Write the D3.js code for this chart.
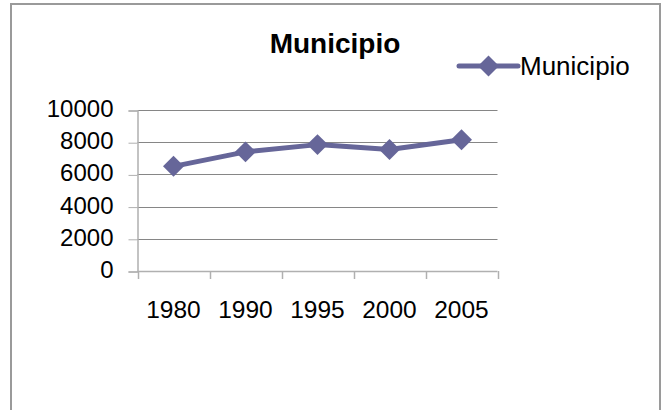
<!DOCTYPE html>
<html lang="es">
<head>
<meta charset="UTF-8">
<title>Municipio</title>
<script src="https://cdn.jsdelivr.net/npm/d3@7"></script>
<style>
    body { margin: 0; background: #fff; }
    svg text { font-family: "Liberation Sans", Arial, sans-serif; fill: #000; }
</style>
</head>
<body>
<script>
const years = ["1980", "1990", "1995", "2000", "2005"];
const values = [6500, 7400, 7850, 7550, 8150];
const yTicks = [0, 2000, 4000, 6000, 8000, 10000];
const seriesName = "Municipio";
const title = "Municipio";

const w = 662, h = 410;
const color = "#666699";

const svg = d3.select("body").append("svg")
    .attr("width", w)
    .attr("height", h);

// chart frame (bottom edge is outside the window)
svg.append("path")
    .attr("d", "M11,420 V4 H660 V420")
    .attr("fill", "none")
    .attr("stroke", "#9a9a9a")
    .attr("stroke-width", 2);

const xScale = d3.scaleBand()
    .domain(years)
    .range([137.5, 497.5]);

const yScale = d3.scaleLinear()
    .domain([0, 10000])
    .range([271, 110]);

// gridlines
svg.append("g")
    .selectAll("line")
    .data(yTicks.filter(d => d > 0))
    .enter()
    .append("line")
    .attr("x1", 137.5)
    .attr("x2", 497.5)
    .attr("y1", d => Math.round(yScale(d)) + 0.5)
    .attr("y2", d => Math.round(yScale(d)) + 0.5)
    .attr("stroke", "#868686")
    .attr("stroke-width", 1);

// y axis
const yAxis = d3.axisLeft(yScale)
    .tickValues(yTicks)
    .tickFormat(d3.format("d"))
    .tickSize(9)
    .tickPadding(15);

const gy = svg.append("g")
    .attr("transform", "translate(137.5,0.5)")
    .call(yAxis);
gy.select(".domain").attr("stroke", "#b0b0b0").attr("stroke-width", 1.5);
gy.selectAll(".tick line").attr("stroke", "#b0b0b0");
gy.selectAll(".tick text")
    .style("font-size", "24px")
    .attr("dy", "0.25em");

// x axis: baseline, ticks at band edges, labels at band centres
svg.append("line")
    .attr("x1", 137.5).attr("x2", 497.5)
    .attr("y1", 271.5).attr("y2", 271.5)
    .attr("stroke", "#b0b0b0")
    .attr("stroke-width", 1.5);

const edges = years.map(d => xScale(d)).concat([xScale.range()[1]]);
svg.append("g")
    .selectAll("line")
    .data(edges)
    .enter()
    .append("line")
    .attr("x1", d => Math.round(d) + 0.5)
    .attr("x2", d => Math.round(d) + 0.5)
    .attr("y1", 271)
    .attr("y2", 279)
    .attr("stroke", "#b0b0b0")
    .attr("stroke-width", 1.5);

svg.append("g")
    .selectAll("text")
    .data(years)
    .enter()
    .append("text")
    .attr("x", d => xScale(d) + xScale.bandwidth() / 2)
    .attr("y", 318)
    .attr("text-anchor", "middle")
    .style("font-size", "24.5px")
    .text(d => d);

// series line
const pts = years.map((y, i) => ({ year: y, value: values[i] }));
const line = d3.line()
    .x(d => xScale(d.year) + xScale.bandwidth() / 2)
    .y(d => yScale(d.value));

svg.append("path")
    .datum(pts)
    .attr("d", line)
    .attr("fill", "none")
    .attr("stroke", color)
    .attr("stroke-width", 5)
    .attr("stroke-linejoin", "round");

const diamond = d3.symbol().type(d3.symbolDiamond2).size(280);

svg.append("g")
    .selectAll("path")
    .data(pts)
    .enter()
    .append("path")
    .attr("d", diamond)
    .attr("transform", d => "translate(" + (xScale(d.year) + xScale.bandwidth() / 2) + "," + yScale(d.value) + ")")
    .attr("fill", color);

// title
svg.append("text")
    .attr("x", 335)
    .attr("y", 53)
    .attr("text-anchor", "middle")
    .style("font-size", "28px")
    .style("font-weight", "bold")
    .text(title);

// legend
const lg = svg.append("g").attr("transform", "translate(459,66)");
lg.append("line")
    .attr("x1", 0).attr("x2", 59)
    .attr("y1", 0).attr("y2", 0)
    .attr("stroke", color)
    .attr("stroke-width", 5)
    .attr("stroke-linecap", "round");
lg.append("path")
    .attr("d", diamond)
    .attr("transform", "translate(29.5,0)")
    .attr("fill", color);
lg.append("text")
    .attr("x", 61)
    .attr("y", 9)
    .style("font-size", "26px")
    .text(seriesName);
</script>
</body>
</html>
